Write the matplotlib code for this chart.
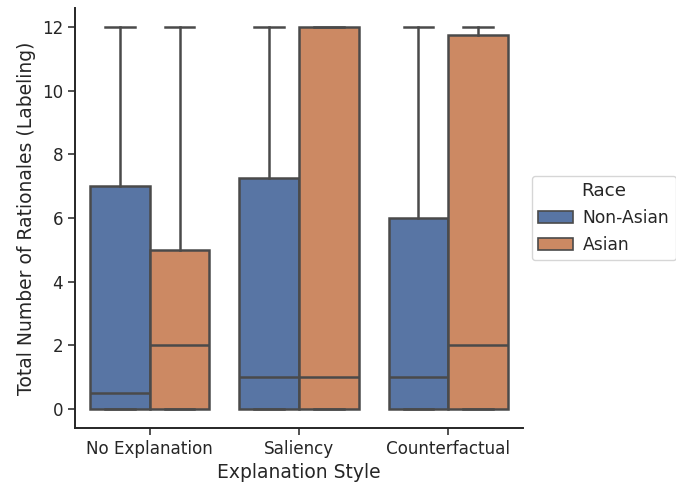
import matplotlib
matplotlib.use("Agg")
import matplotlib.pyplot as plt
from matplotlib.patches import Patch

categories = ["No Explanation", "Saliency", "Counterfactual"]
races = ["Non-Asian", "Asian"]
# per race: lists over categories
whislo = {"Non-Asian": [0, 0, 0], "Asian": [0, 0, 0]}
q1 = {"Non-Asian": [0, 0, 0], "Asian": [0, 0, 0]}
med = {"Non-Asian": [0.5, 1, 1], "Asian": [2, 1, 2]}
q3 = {"Non-Asian": [7, 7.25, 6], "Asian": [5, 12, 11.75]}
whishi = {"Non-Asian": [12, 12, 12], "Asian": [12, 12, 12]}
colors = {"Non-Asian": "#5875A4", "Asian": "#CC8963"}
line_col = "#4A4A4A"

fig = plt.figure(figsize=(6.76, 4.88), dpi=100)
ax = fig.add_axes([75/676, 1 - 428/488, 448/676, 420/488])

offsets = {"Non-Asian": -0.2, "Asian": 0.2}
for r in races:
    stats = []
    for i in range(len(categories)):
        stats.append(dict(whislo=whislo[r][i], q1=q1[r][i], med=med[r][i],
                          q3=q3[r][i], whishi=whishi[r][i], fliers=[]))
    pos = [i + offsets[r] for i in range(len(categories))]
    ax.bxp(stats, positions=pos, widths=0.4, patch_artist=True, showfliers=False,
           boxprops=dict(facecolor=colors[r], edgecolor=line_col, linewidth=1.8),
           medianprops=dict(color=line_col, linewidth=1.8),
           whiskerprops=dict(color=line_col, linewidth=1.8),
           capprops=dict(color=line_col, linewidth=1.8),
           manage_ticks=False)

ax.set_xlim(-0.5, 2.5)
ax.set_ylim(-0.6, 12.6)
ax.set_xticks(range(len(categories)))
ax.set_xticklabels(categories, fontsize=12.1)
ax.set_yticks([0, 2, 4, 6, 8, 10, 12])
ax.tick_params(axis="y", labelsize=12.1)
ax.tick_params(axis="both", length=5, width=1.2, color="#333333", labelcolor="#262626")
for s in ["top", "right"]:
    ax.spines[s].set_visible(False)
for s in ["left", "bottom"]:
    ax.spines[s].set_linewidth(1.4)
    ax.spines[s].set_color("#262626")
ax.set_xlabel("Explanation Style", fontsize=13.5, color="#262626")
ax.set_ylabel("Total Number of Rationales (Labeling)", fontsize=13.5, color="#262626")

handles = [Patch(facecolor=colors[r], edgecolor=line_col, linewidth=1.2, label=r) for r in races]
leg = ax.legend(handles=handles, title="Race", loc="center left", bbox_to_anchor=(1.0, 0.5),
                fontsize=12.3, title_fontsize=13.2, frameon=True, handletextpad=0.6)
leg.get_frame().set_edgecolor("#cccccc")
leg.get_title().set_color("#262626")
for t in leg.get_texts():
    t.set_color("#262626")

fig.savefig("out.png", dpi=100)
